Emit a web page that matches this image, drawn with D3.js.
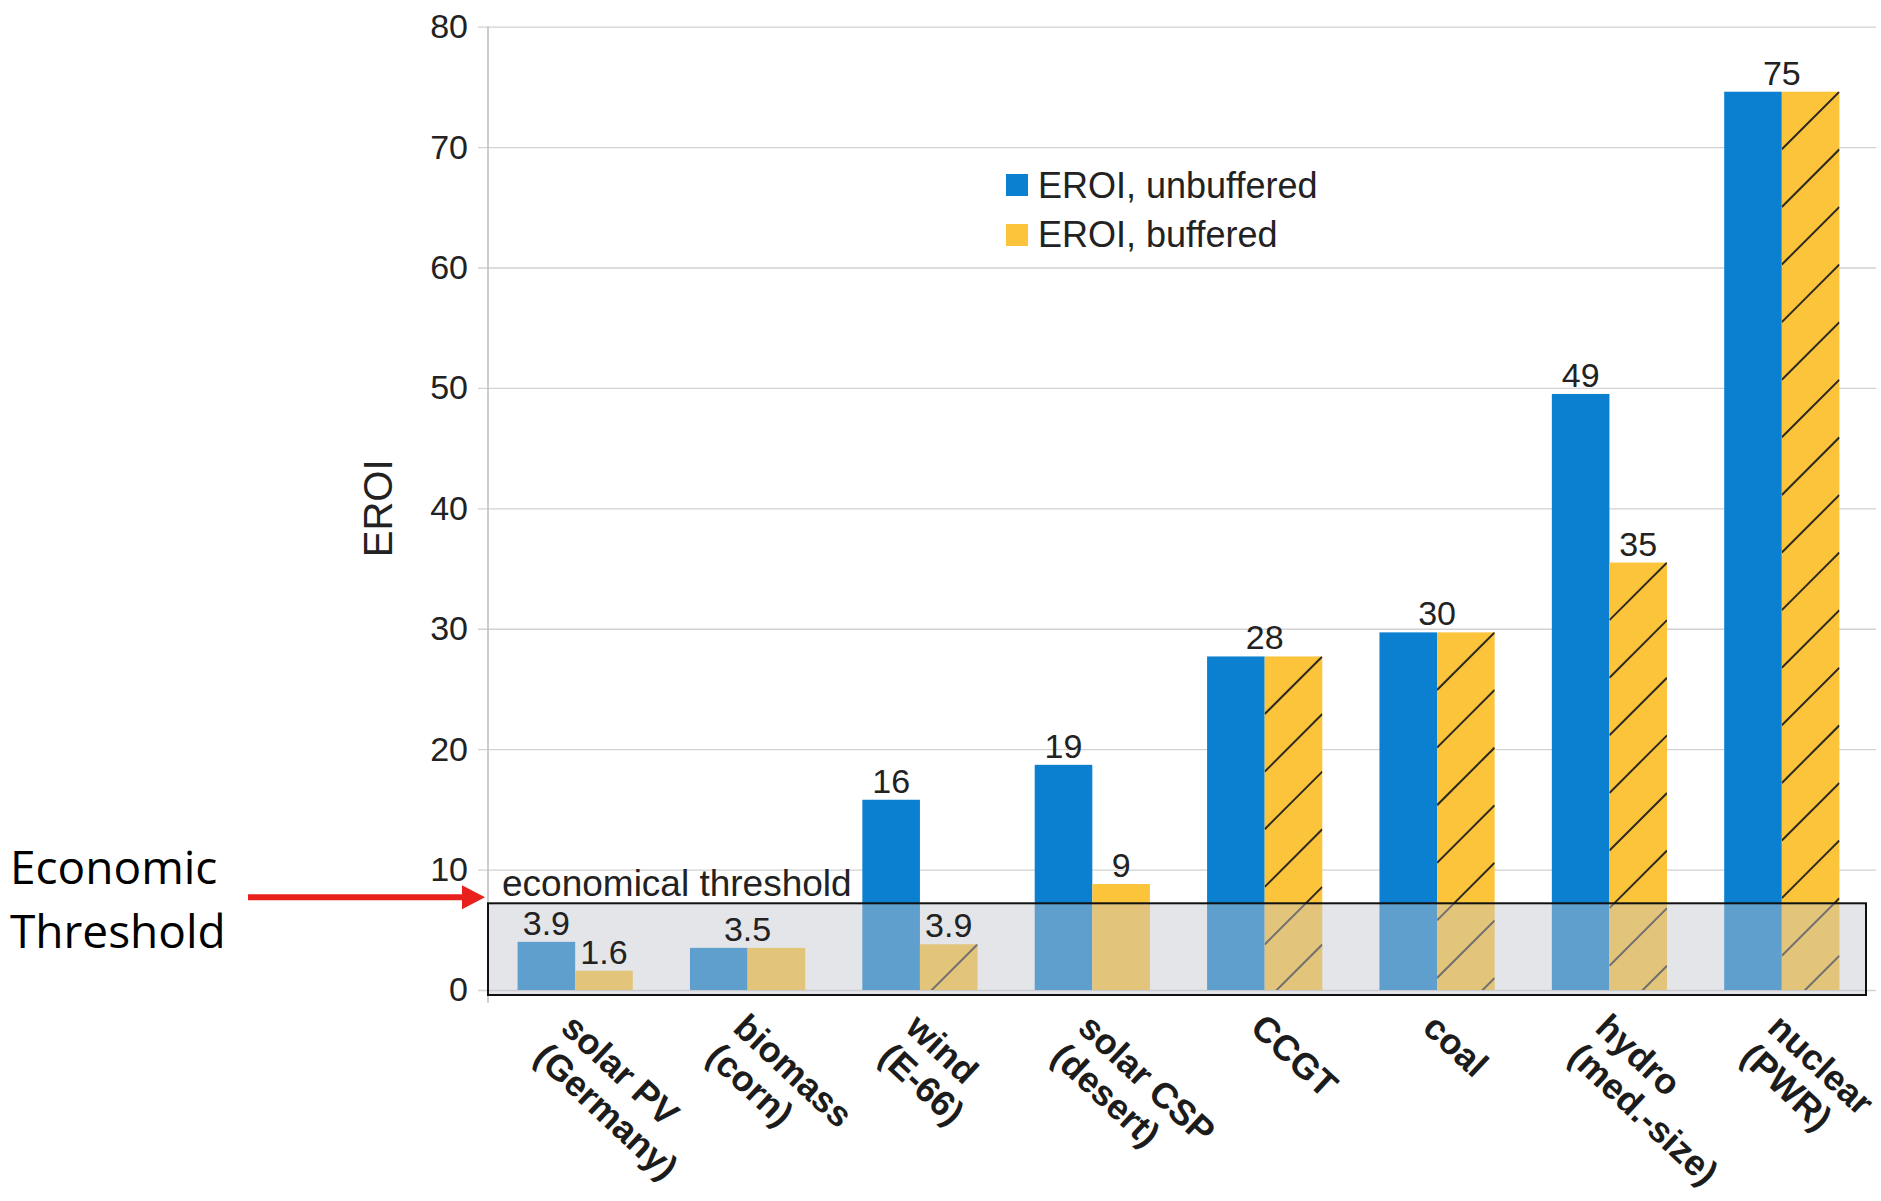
<!DOCTYPE html>
<html>
<head>
<meta charset="utf-8">
<script src="https://cdn.jsdelivr.net/npm/d3@7"></script>
<style>
  html, body { margin: 0; padding: 0; background: #fff; }
  svg { display: block; }
</style>
</head>
<body>
<svg id="chart" width="1881" height="1201"></svg>
<script>
// ---------- data ----------
const catLine1 = ["solar PV", "biomass", "wind", "solar CSP", "CCGT", "coal", "hydro", "nuclear"];
const catLine2 = ["(Germany)", "(corn)", "(E-66)", "(desert)", "", "", "(med.-size)", "(PWR)"];
const unbuffered = [4.0, 3.5, 15.8, 18.7, 27.7, 29.7, 49.5, 74.6];
const buffered   = [1.6, 3.5, 3.8, 8.8, 27.7, 29.7, 35.5, 74.6];
const valueLabels = [["3.9", "1.6"], ["3.5"], ["16", "3.9"], ["19", "9"], ["28"], ["30"], ["49", "35"], ["75"]];
const bufferedHatched = [false, false, true, false, true, true, true, true];
const yTicks = [0, 10, 20, 30, 40, 50, 60, 70, 80];
const thresholdValue = 7.2;
const seriesNames = ["EROI, unbuffered", "EROI, buffered"];
const thresholdLabel = "economical threshold";
const annotationLines = ["Economic", "Threshold"];

// ---------- setup ----------
const FONT = "'Liberation Sans', Arial, sans-serif";
const BLUE = "#0b80d0", YELLOW = "#fcc43a";
const svg = d3.select("#chart");

const y = d3.scaleLinear().domain([0, 80]).range([990, 26.7]);
const x = d3.scaleBand().domain(d3.range(catLine1.length)).range([489, 1868]).paddingInner(0).paddingOuter(0);
const bw = x.bandwidth();
const barW = 57.6;
const xs = d3.scaleBand().domain(["u", "b"]).range([bw / 2 - barW, bw / 2 + barW]);

// ---------- grid + y axis ----------
const yAxis = d3.axisLeft(y).tickValues(yTicks).tickSize(-(1876 - 478)).tickPadding(10).tickFormat(d3.format("d"));
const gy = svg.append("g").attr("transform", "translate(478,0)").call(yAxis);
gy.select(".domain").remove();
gy.selectAll(".tick line").attr("stroke", "#d2d2d2").attr("stroke-width", 1.3);
gy.selectAll(".tick text").attr("font-family", FONT).attr("font-size", 34).attr("fill", "#222");

svg.append("line")
  .attr("x1", 488).attr("x2", 488).attr("y1", y(80)).attr("y2", y(0) + 13)
  .attr("stroke", "#bdbdbd").attr("stroke-width", 1.5);

// y title
svg.append("text")
  .attr("transform", `translate(392,${y(40)}) rotate(-90)`)
  .attr("text-anchor", "middle")
  .attr("font-family", FONT).attr("font-size", 40).attr("fill", "#222")
  .text("EROI");

// ---------- bars ----------
const defs = svg.append("defs");
const gBars = svg.append("g");
catLine1.forEach((c, i) => {
  const g = gBars.append("g").attr("transform", `translate(${x(i)},0)`);
  g.append("rect")
    .attr("x", xs("u")).attr("width", xs.bandwidth())
    .attr("y", y(unbuffered[i])).attr("height", y(0) - y(unbuffered[i]))
    .attr("fill", BLUE);
  g.append("rect")
    .attr("x", xs("b")).attr("width", xs.bandwidth())
    .attr("y", y(buffered[i])).attr("height", y(0) - y(buffered[i]))
    .attr("fill", YELLOW);
  if (bufferedHatched[i]) {
    const id = "clip" + i;
    const x0 = xs("b"), x1 = xs("b") + xs.bandwidth(), top = y(buffered[i]), bot = y(0);
    defs.append("clipPath").attr("id", id).append("rect")
      .attr("x", x(i) + x0).attr("y", top).attr("width", xs.bandwidth()).attr("height", bot - top);
    const hg = svg.append("g").attr("clip-path", `url(#${id})`);
    const w = xs.bandwidth();
    const ks = d3.range(0, Math.ceil((bot - top) / w) + 1);
    hg.selectAll("line").data(ks).join("line")
      .attr("x1", x(i) + x1).attr("y1", k => top + k * w)
      .attr("x2", x(i) + x0).attr("y2", k => top + k * w + w)
      .attr("stroke", "#2e2a22").attr("stroke-width", 2);
  }
});

// ---------- threshold box ----------
svg.append("rect")
  .attr("x", 488).attr("y", y(thresholdValue))
  .attr("width", 1866 - 488).attr("height", y(0) + 5 - y(thresholdValue))
  .attr("fill", "rgb(195,197,205)").attr("fill-opacity", 0.45)
  .attr("stroke", "#111").attr("stroke-width", 2);

svg.append("text")
  .attr("x", 502).attr("y", y(thresholdValue) - 7)
  .attr("font-family", FONT).attr("font-size", 37).attr("fill", "#222")
  .text(thresholdLabel);

// ---------- value labels ----------
const gLab = svg.append("g").attr("font-family", FONT).attr("font-size", 34).attr("fill", "#222").attr("text-anchor", "middle");
valueLabels.forEach((labs, i) => {
  if (labs.length === 1) {
    const v = Math.max(unbuffered[i], buffered[i]);
    gLab.append("text").attr("x", x(i) + bw / 2).attr("y", y(v) - 7).text(labs[0]);
  } else {
    gLab.append("text").attr("x", x(i) + xs("u") + xs.bandwidth() / 2).attr("y", y(unbuffered[i]) - 7).text(labs[0]);
    gLab.append("text").attr("x", x(i) + xs("b") + xs.bandwidth() / 2).attr("y", y(buffered[i]) - 7).text(labs[1]);
  }
});

// ---------- x labels ----------
const gX = svg.append("g").attr("font-family", FONT).attr("font-size", 36).attr("font-weight", "bold").attr("fill", "#1c1c1c");
catLine1.forEach((c, i) => {
  const t = gX.append("text")
    .attr("transform", `translate(${x(i) + bw / 2 - 16},1030) rotate(43)`);
  t.append("tspan").attr("x", 0).attr("dy", 0).text(c);
  if (catLine2[i]) t.append("tspan").attr("x", 0).attr("dy", "1.1em").text(catLine2[i]);
});

// ---------- legend ----------
const colors = [BLUE, YELLOW];
const gLeg = svg.append("g").attr("font-family", FONT).attr("font-size", 36).attr("fill", "#222");
seriesNames.forEach((s, k) => {
  gLeg.append("rect").attr("x", 1006).attr("y", 174 + k * 50).attr("width", 22).attr("height", 22).attr("fill", colors[k]);
  gLeg.append("text").attr("x", 1038).attr("y", 198 + k * 49).text(s);
});

// ---------- left annotation ----------
svg.append("g").attr("font-family", "'Open Sans', 'Noto Sans', sans-serif").attr("font-size", 46).attr("fill", "#000")
  .selectAll("text").data(annotationLines).join("text")
  .attr("x", 10).attr("y", (d, k) => 884 + k * 64).text(d => d);

const ay = y(thresholdValue) - 6;
svg.append("line").attr("x1", 248).attr("x2", 464).attr("y1", ay).attr("y2", ay)
  .attr("stroke", "#e8211c").attr("stroke-width", 6);
svg.append("path").attr("d", `M462,${ay - 12} L485,${ay} L462,${ay + 12} Z`).attr("fill", "#e8211c");
</script>
</body>
</html>
